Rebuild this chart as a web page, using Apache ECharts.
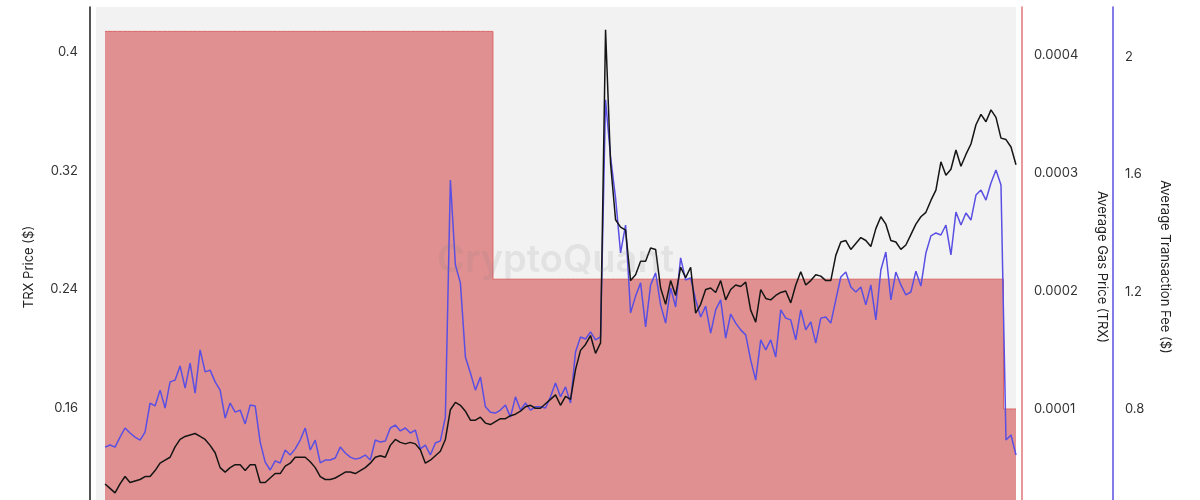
<!DOCTYPE html>
<html>
<head>
<meta charset="utf-8">
<script src="https://cdn.jsdelivr.net/npm/echarts@6/dist/echarts.min.js"></script>
<style>
html,body{margin:0;padding:0;background:#fff;}
#c{width:1200px;height:500px;}
</style>
</head>
<body>
<div id="c"></div>
<script>
// TRX price ($), sampled every ~3 days
const trxPrice = [
0.109,0.106,0.103,0.109,0.114,0.110,0.111,0.112,0.114,0.114,
0.118,0.123,0.125,0.127,0.134,0.139,0.141,0.142,0.143,0.141,
0.139,0.135,0.130,0.120,0.117,0.120,0.122,0.122,0.118,0.122,
0.122,0.110,0.110,0.113,0.116,0.116,0.121,0.123,0.127,0.127,
0.127,0.124,0.120,0.114,0.112,0.112,0.113,0.115,0.117,0.117,
0.116,0.118,0.120,0.123,0.127,0.128,0.127,0.135,0.139,0.137,
0.136,0.137,0.136,0.132,0.123,0.125,0.128,0.131,0.139,0.159,
0.164,0.162,0.158,0.152,0.152,0.154,0.150,0.149,0.151,0.153,
0.153,0.155,0.156,0.158,0.161,0.162,0.160,0.160,0.163,0.166,
0.169,0.162,0.168,0.166,0.186,0.199,0.203,0.209,0.197,0.204,
0.415,0.325,0.287,0.282,0.280,0.246,0.250,0.259,0.259,0.268,
0.267,0.241,0.230,0.246,0.236,0.255,0.248,0.255,0.224,0.230,
0.240,0.241,0.238,0.246,0.233,0.240,0.243,0.242,0.245,0.226,
0.218,0.240,0.234,0.233,0.236,0.238,0.239,0.231,0.243,0.252,
0.243,0.246,0.250,0.249,0.246,0.246,0.263,0.272,0.273,0.267,
0.271,0.275,0.273,0.269,0.281,0.289,0.284,0.273,0.272,0.267,
0.270,0.277,0.284,0.289,0.292,0.300,0.307,0.326,0.317,0.321,
0.334,0.323,0.331,0.338,0.351,0.358,0.353,0.361,0.356,0.342,
0.341,0.336,0.324
];

// Average transaction fee ($)
const avgFee = [
0.672,0.679,0.672,0.706,0.737,0.720,0.706,0.696,0.723,0.822,
0.812,0.866,0.805,0.894,0.900,0.948,0.873,0.958,0.856,1.003,
0.928,0.934,0.894,0.866,0.771,0.822,0.791,0.798,0.751,0.815,
0.812,0.689,0.621,0.594,0.625,0.618,0.662,0.645,0.666,0.696,
0.737,0.662,0.696,0.618,0.628,0.628,0.635,0.672,0.652,0.638,
0.631,0.635,0.645,0.628,0.696,0.689,0.693,0.737,0.747,0.727,
0.737,0.720,0.730,0.666,0.679,0.645,0.686,0.693,0.774,1.581,
1.292,1.231,0.979,0.924,0.866,0.911,0.809,0.791,0.788,0.798,
0.815,0.774,0.843,0.798,0.822,0.798,0.809,0.809,0.805,0.843,
0.890,0.843,0.877,0.822,0.996,1.047,1.040,1.064,1.037,1.047,
1.854,1.660,1.520,1.333,1.428,1.129,1.186,1.231,1.081,1.224,
1.265,1.156,1.094,1.214,1.149,1.316,1.241,1.248,1.173,1.115,
1.152,1.060,1.139,1.173,1.043,1.125,1.094,1.071,1.054,0.968,
0.900,1.037,1.003,1.037,0.979,1.139,1.111,1.105,1.037,1.139,
1.071,1.098,1.026,1.111,1.115,1.094,1.173,1.251,1.268,1.217,
1.200,1.217,1.156,1.224,1.105,1.275,1.336,1.173,1.268,1.224,
1.190,1.200,1.271,1.220,1.333,1.391,1.401,1.394,1.428,1.326,
1.472,1.428,1.469,1.445,1.530,1.547,1.513,1.571,1.615,1.564,
0.696,0.713,0.645
];

// Average gas (energy) price (TRX)
const gasPrice = [
4.2e-4,4.2e-4,4.2e-4,4.2e-4,4.2e-4,4.2e-4,4.2e-4,4.2e-4,4.2e-4,4.2e-4,
4.2e-4,4.2e-4,4.2e-4,4.2e-4,4.2e-4,4.2e-4,4.2e-4,4.2e-4,4.2e-4,4.2e-4,
4.2e-4,4.2e-4,4.2e-4,4.2e-4,4.2e-4,4.2e-4,4.2e-4,4.2e-4,4.2e-4,4.2e-4,
4.2e-4,4.2e-4,4.2e-4,4.2e-4,4.2e-4,4.2e-4,4.2e-4,4.2e-4,4.2e-4,4.2e-4,
4.2e-4,4.2e-4,4.2e-4,4.2e-4,4.2e-4,4.2e-4,4.2e-4,4.2e-4,4.2e-4,4.2e-4,
4.2e-4,4.2e-4,4.2e-4,4.2e-4,4.2e-4,4.2e-4,4.2e-4,4.2e-4,4.2e-4,4.2e-4,
4.2e-4,4.2e-4,4.2e-4,4.2e-4,4.2e-4,4.2e-4,4.2e-4,4.2e-4,4.2e-4,4.2e-4,
4.2e-4,4.2e-4,4.2e-4,4.2e-4,4.2e-4,4.2e-4,4.2e-4,4.2e-4,
2.1e-4,2.1e-4,
2.1e-4,2.1e-4,2.1e-4,2.1e-4,2.1e-4,2.1e-4,2.1e-4,2.1e-4,2.1e-4,2.1e-4,
2.1e-4,2.1e-4,2.1e-4,2.1e-4,2.1e-4,2.1e-4,2.1e-4,2.1e-4,2.1e-4,2.1e-4,
2.1e-4,2.1e-4,2.1e-4,2.1e-4,2.1e-4,2.1e-4,2.1e-4,2.1e-4,2.1e-4,2.1e-4,
2.1e-4,2.1e-4,2.1e-4,2.1e-4,2.1e-4,2.1e-4,2.1e-4,2.1e-4,2.1e-4,2.1e-4,
2.1e-4,2.1e-4,2.1e-4,2.1e-4,2.1e-4,2.1e-4,2.1e-4,2.1e-4,2.1e-4,2.1e-4,
2.1e-4,2.1e-4,2.1e-4,2.1e-4,2.1e-4,2.1e-4,2.1e-4,2.1e-4,2.1e-4,2.1e-4,
2.1e-4,2.1e-4,2.1e-4,2.1e-4,2.1e-4,2.1e-4,2.1e-4,2.1e-4,2.1e-4,2.1e-4,
2.1e-4,2.1e-4,2.1e-4,2.1e-4,2.1e-4,2.1e-4,2.1e-4,2.1e-4,2.1e-4,2.1e-4,
2.1e-4,2.1e-4,2.1e-4,2.1e-4,2.1e-4,2.1e-4,2.1e-4,2.1e-4,2.1e-4,2.1e-4,
2.1e-4,2.1e-4,2.1e-4,2.1e-4,2.1e-4,2.1e-4,2.1e-4,2.1e-4,2.1e-4,2.1e-4,
1e-4,1e-4,1e-4
];

const FONT = 'Inter, "Liberation Sans", sans-serif';
const idx = (arr) => arr.map((v, i) => [i, v]);

const chart = echarts.init(document.getElementById('c'), null, {renderer: 'canvas'});
chart.setOption({
  animation: false,
  backgroundColor: '#ffffff',
  grid: {
    left: 96, right: 184, top: 7, bottom: -27,
    show: true, backgroundColor: '#f2f2f2', borderWidth: 0,
    containLabel: false, outerBoundsMode: 'none'
  },
  xAxis: {
    type: 'value', min: -1.8, max: trxPrice.length - 1,
    show: false
  },
  yAxis: [
    {
      type: 'value', position: 'left', offset: 6,
      min: 0.08, max: 0.43032, interval: 0.08,
      axisLine: {show: true, onZero: false, lineStyle: {color: '#1a1a1a', width: 1.5}},
      axisTick: {show: false}, splitLine: {show: false},
      axisLabel: {color: '#333', fontSize: 13, fontFamily: FONT, margin: 12, showMaxLabel: false, showMinLabel: false},
      name: 'TRX Price ($)', nameLocation: 'middle', nameGap: 54,
      nameTextStyle: {color: '#222', fontSize: 13, fontFamily: FONT}
    },
    {
      type: 'value', position: 'right', offset: 6,
      min: 0, max: 0.00044068, interval: 0.0001,
      axisLine: {show: true, onZero: false, lineStyle: {color: '#e07676', width: 1.5}},
      axisTick: {show: false}, splitLine: {show: false},
      axisLabel: {color: '#333', fontSize: 13, fontFamily: FONT, margin: 12, showMaxLabel: false, showMinLabel: false},
      name: 'Average Gas Price (TRX)', nameLocation: 'middle', nameGap: 73, nameRotate: -90,
      nameTextStyle: {color: '#222', fontSize: 13, fontFamily: FONT}
    },
    {
      type: 'value', position: 'right', offset: 97,
      min: 0.4, max: 2.17018, interval: 0.4,
      axisLine: {show: true, onZero: false, lineStyle: {color: '#5b4fe0', width: 1.5}},
      axisTick: {show: false}, splitLine: {show: false},
      axisLabel: {color: '#333', fontSize: 13, fontFamily: FONT, margin: 12, showMaxLabel: false, showMinLabel: false},
      name: 'Average Transaction Fee ($)', nameLocation: 'middle', nameGap: 45, nameRotate: -90,
      nameTextStyle: {color: '#222', fontSize: 13, fontFamily: FONT}
    }
  ],
  graphic: [{
    type: 'text', left: 437, top: 242, z: 100, silent: true,
    style: {text: 'CryptoQuant', font: '600 38px ' + FONT, fill: 'rgba(120,120,130,0.13)'}
  }],
  series: [
    {
      name: 'Average Gas Price (TRX)', type: 'line', yAxisIndex: 1,
      data: idx(gasPrice), step: 'middle', symbol: 'none',
      lineStyle: {color: '#d96464', width: 1},
      areaStyle: {color: '#e09090', opacity: 1},
      z: 1
    },
    {
      name: 'Average Transaction Fee ($)', type: 'line', yAxisIndex: 2,
      data: idx(avgFee), symbol: 'none',
      lineStyle: {color: '#5a4fe3', width: 1.5},
      z: 2
    },
    {
      name: 'TRX Price ($)', type: 'line', yAxisIndex: 0,
      data: idx(trxPrice), symbol: 'none',
      lineStyle: {color: '#151515', width: 1.5},
      z: 3
    }
  ]
});
</script>
</body>
</html>
